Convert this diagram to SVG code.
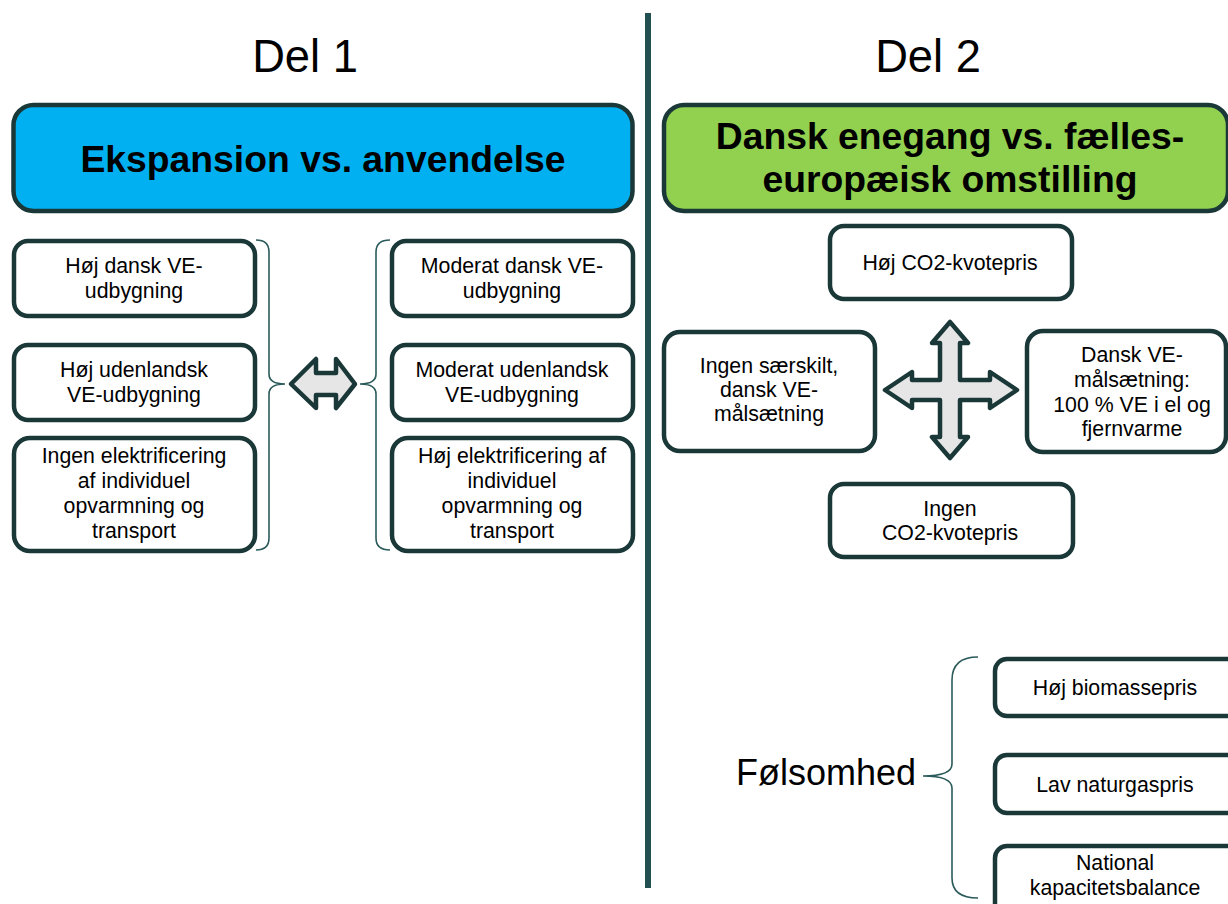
<svg xmlns="http://www.w3.org/2000/svg" width="1228" height="904" viewBox="0 0 1228 904">
<style>
text{font-family:"Liberation Sans",Arial,sans-serif;fill:#000;text-anchor:middle}
.big{font-size:45.3px}
.title{font-size:37.3px;font-weight:bold}
.t{font-size:21.3px}
.box{fill:#fff;stroke:#1b3838;stroke-width:4.5}
.brace{fill:none;stroke:#2b5a5a;stroke-width:1.6}
.arrow{fill:#e6e6e6;stroke:#1b3838;stroke-width:4.5;stroke-linejoin:round}
</style>
<rect x="645" y="13" width="6" height="875" fill="#225050"/>
<g id="headers">
<text class="big" x="305" y="72">Del 1</text>
<text class="big" x="928" y="72">Del 2</text>
</g>
<g id="title1">
<rect x="13.5" y="105" width="619" height="106" rx="20" fill="#00b0f0" stroke="#1b3838" stroke-width="4.5"/>
<text class="title" x="323" y="172">Ekspansion vs. anvendelse</text>
</g>
<g id="title2">
<rect x="664" y="105" width="564" height="106" rx="20" fill="#92d050" stroke="#1b3838" stroke-width="4.5"/>
<text class="title" x="950" y="149">Dansk enegang vs. fælles-</text>
<text class="title" x="950" y="192">europæisk omstilling</text>
</g>
<g id="l1"><rect class="box" x="14" y="241" width="241" height="75" rx="14"/>
<text class="t" x="134" y="273">Høj dansk VE-</text><text class="t" x="134" y="298">udbygning</text></g>
<g id="l2"><rect class="box" x="14" y="345" width="241" height="75" rx="14"/>
<text class="t" x="134" y="377">Høj udenlandsk</text><text class="t" x="134" y="402">VE-udbygning</text></g>
<g id="l3"><rect class="box" x="14" y="438" width="241" height="113" rx="16"/>
<text class="t" x="134" y="463">Ingen elektrificering</text><text class="t" x="134" y="488">af individuel</text><text class="t" x="134" y="513">opvarmning og</text><text class="t" x="134" y="538">transport</text></g>
<g id="r1"><rect class="box" x="392" y="241" width="241" height="75" rx="14"/>
<text class="t" x="512" y="273">Moderat dansk VE-</text><text class="t" x="512" y="298">udbygning</text></g>
<g id="r2"><rect class="box" x="392" y="345" width="241" height="75" rx="14"/>
<text class="t" x="512" y="377">Moderat udenlandsk</text><text class="t" x="512" y="402">VE-udbygning</text></g>
<g id="r3"><rect class="box" x="392" y="438" width="241" height="113" rx="16"/>
<text class="t" x="512" y="463">Høj elektrificering af</text><text class="t" x="512" y="488">individuel</text><text class="t" x="512" y="513">opvarmning og</text><text class="t" x="512" y="538">transport</text></g>
<g id="co2high"><rect class="box" x="830" y="226" width="242" height="73" rx="14"/>
<text class="t" x="950" y="270">Høj CO2-kvotepris</text></g>
<g id="nogoal"><rect class="box" x="664" y="332" width="211" height="119" rx="16"/>
<text class="t" x="769" y="373">Ingen særskilt,</text><text class="t" x="769" y="397">dansk VE-</text><text class="t" x="769" y="421">målsætning</text></g>
<g id="goal"><rect class="box" x="1027" y="331" width="199" height="121" rx="16"/>
<text class="t" x="1132" y="362">Dansk VE-</text><text class="t" x="1132" y="387">målsætning:</text><text class="t" x="1132" y="412">100 % VE i el og</text><text class="t" x="1132" y="436">fjernvarme</text></g>
<g id="co2none"><rect class="box" x="830" y="484" width="243" height="73" rx="14"/>
<text class="t" x="950" y="516">Ingen</text><text class="t" x="950" y="540">CO2-kvotepris</text></g>
<g id="sens"><text x="826" y="785" style="font-size:36px">Følsomhed</text></g>
<g id="s1"><rect class="box" x="995" y="659" width="250" height="57" rx="12"/>
<text class="t" x="1115" y="695">Høj biomassepris</text></g>
<g id="s2"><rect class="box" x="995" y="755" width="250" height="58" rx="12"/>
<text class="t" x="1115" y="792">Lav naturgaspris</text></g>
<g id="s3"><rect class="box" x="995" y="846" width="250" height="70" rx="12"/>
<text class="t" x="1115" y="870">National</text><text class="t" x="1115" y="895">kapacitetsbalance</text></g>
<g id="connectors">
<path class="brace" d="M256 240 Q269 240 269 252 L269 374 Q269 384 285 384 Q269 384 269 394 L269 538 Q269 550 256 550"/>
<path class="brace" d="M390 240 Q376 240 376 252 L376 374 Q376 384 360 384 Q376 384 376 394 L376 538 Q376 550 390 550"/>
<path class="brace" d="M978 657 Q952 657 952 680 L952 764 Q952 776 923 776 Q952 776 952 788 L952 878 Q952 898 978 898"/>
<path class="arrow" d="M291 384 L316 359 L316 373 L336 373 L336 359 L355 384 L336 408 L336 395 L316 395 L316 408 Z"/>
<path class="arrow" d="M950 322 L968 343 L960 343 L960 380 L990 380 L990 372 L1017 390 L990 408 L990 400 L960 400 L960 437 L968 437 L950 458 L932 437 L940 437 L940 400 L912 400 L912 408 L885 390 L912 372 L912 380 L940 380 L940 343 L932 343 Z"/>
</g>
</svg>
